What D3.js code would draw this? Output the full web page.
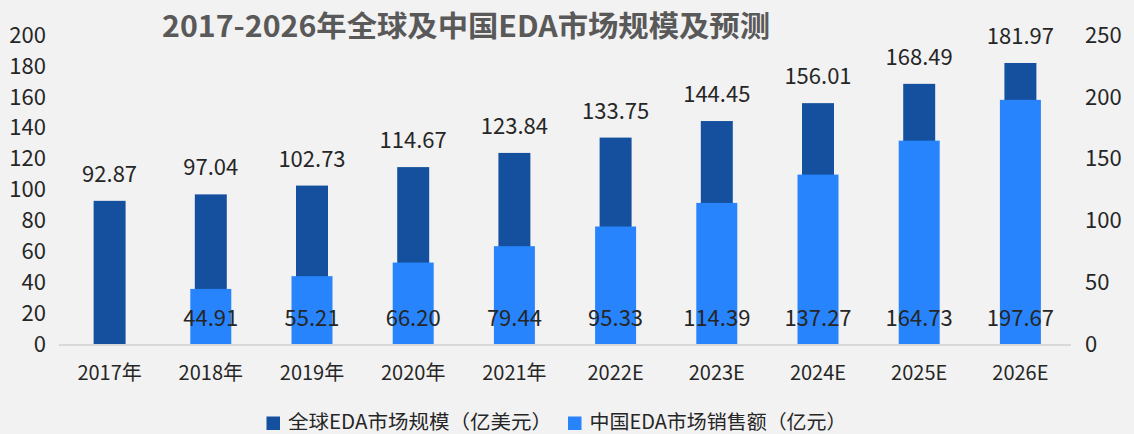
<!DOCTYPE html>
<html>
<head>
<meta charset="utf-8">
<script src="https://cdn.jsdelivr.net/npm/d3@7"></script>
<style>
  html, body { margin: 0; padding: 0; background: #f2f2f2; }
  svg { display: block; }
</style>
</head>
<body>
<svg id="chart" width="1134" height="434"></svg>
<script>
const categories = ["2017年","2018年","2019年","2020年","2021年","2022E","2023E","2024E","2025E","2026E"];
const globalValues = [92.87, 97.04, 102.73, 114.67, 123.84, 133.75, 144.45, 156.01, 168.49, 181.97];
const chinaValues = [null, 44.91, 55.21, 66.20, 79.44, 95.33, 114.39, 137.27, 164.73, 197.67];
const leftTicks = [0, 20, 40, 60, 80, 100, 120, 140, 160, 180, 200];
const rightTicks = [0, 50, 100, 150, 200, 250];
const seriesNames = ["全球EDA市场规模（亿美元）", "中国EDA市场销售额（亿元）"];
const title = "2017-2026年全球及中国EDA市场规模及预测";

const colors = ["#15509f", "#2784fd"];
const numFont = "'Liberation Sans Narrow', 'Noto Sans CJK SC', sans-serif";
const cjkFont = "'Noto Sans CJK SC', sans-serif";
const textColor = "#262626";

const svg = d3.select("#chart");
const x0 = 59, x1 = 1071, yBase = 344.5, yTop = 35.1;

const xDark = d3.scaleBand().domain(categories).range([x0, x1]).paddingInner(0.684).paddingOuter(0.342);
const xLight = d3.scaleBand().domain(categories).range([x0, x1]).paddingInner(0.595).paddingOuter(0.2975);
const xCat = d3.scaleBand().domain(categories).range([x0, x1]);
const yL = d3.scaleLinear().domain([0, 200]).range([yBase, yTop]);
const yR = d3.scaleLinear().domain([0, 250]).range([yBase, yTop]);

// title
svg.append("text")
  .attr("x", 162).attr("y", 37)
  .attr("font-family", cjkFont).attr("font-weight", "bold")
  .attr("font-size", 29).attr("fill", "#595959")
  .attr("textLength", 608).attr("lengthAdjust", "spacingAndGlyphs")
  .text(title);

// left axis
const gl = svg.append("g").attr("transform", `translate(${x0 - 13},0)`)
  .call(d3.axisLeft(yL).tickValues(leftTicks).tickSize(0).tickPadding(0));
gl.select(".domain").remove();
gl.selectAll("text").attr("font-family", numFont).attr("font-size", 22).attr("fill", textColor);

// right axis
const gr = svg.append("g").attr("transform", `translate(1085,0)`)
  .call(d3.axisRight(yR).tickValues(rightTicks).tickSize(0).tickPadding(0));
gr.select(".domain").remove();
gr.selectAll("text").attr("font-family", numFont).attr("font-size", 22).attr("fill", textColor);

// global bars
svg.append("g").selectAll("rect").data(categories).join("rect")
  .attr("x", d => xDark(d))
  .attr("width", xDark.bandwidth())
  .attr("y", (d, i) => yL(globalValues[i]))
  .attr("height", (d, i) => yBase - yL(globalValues[i]))
  .attr("fill", colors[0]);

// china bars
const chinaData = categories.map((c, i) => ({c, v: chinaValues[i]})).filter(d => d.v != null);
svg.append("g").selectAll("rect").data(chinaData).join("rect")
  .attr("x", d => xLight(d.c))
  .attr("width", xLight.bandwidth())
  .attr("y", d => yR(d.v))
  .attr("height", d => yBase - yR(d.v))
  .attr("fill", colors[1]);

// baseline
svg.append("line").attr("x1", x0).attr("x2", x1).attr("y1", yBase + 0.5).attr("y2", yBase + 0.5)
  .attr("stroke", "#d9d9d9").attr("stroke-width", 2);

// global labels
svg.append("g").selectAll("text").data(categories).join("text")
  .attr("x", d => xCat(d) + xCat.bandwidth() / 2)
  .attr("y", (d, i) => yL(globalValues[i]) - 19)
  .attr("text-anchor", "middle")
  .attr("font-family", numFont).attr("font-size", 22).attr("fill", textColor)
  .text((d, i) => globalValues[i].toFixed(2));

// china labels (inside base)
svg.append("g").selectAll("text").data(chinaData).join("text")
  .attr("x", d => xCat(d.c) + xCat.bandwidth() / 2)
  .attr("y", 326)
  .attr("text-anchor", "middle")
  .attr("font-family", numFont).attr("font-size", 22).attr("fill", textColor)
  .text(d => d.v.toFixed(2));

// category labels
svg.append("g").selectAll("text").data(categories).join("text")
  .attr("x", d => xCat(d) + xCat.bandwidth() / 2)
  .attr("y", 380)
  .attr("text-anchor", "middle")
  .attr("font-family", cjkFont).attr("font-size", 20).attr("fill", textColor)
  .text(d => d);

// legend
const legendX = [266.5, 568];
const legendW = [264, 257];
const lg = svg.append("g");
seriesNames.forEach((name, i) => {
  lg.append("rect").attr("x", legendX[i]).attr("y", 416.5).attr("width", 13.5).attr("height", 13.5).attr("fill", colors[i]);
  lg.append("text").attr("x", legendX[i] + 21.5).attr("y", 429)
    .attr("font-family", cjkFont).attr("font-size", 19.5).attr("fill", textColor)
    .attr("textLength", legendW[i]).attr("lengthAdjust", "spacingAndGlyphs")
    .text(name);
});
</script>
</body>
</html>
